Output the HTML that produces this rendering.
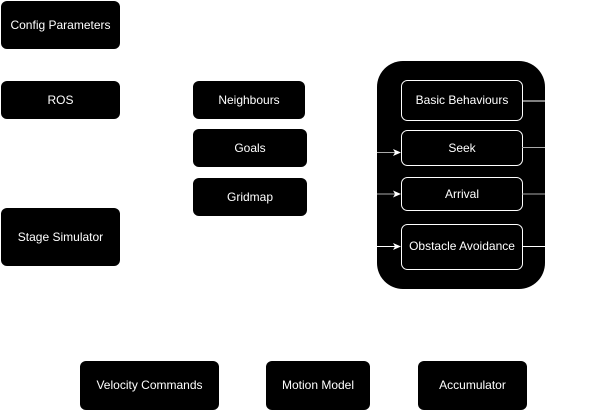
<!DOCTYPE html>
<html><head><meta charset="utf-8"><style>
html,body{margin:0;padding:0;background:#fff;}
svg{display:block;}
text{font-family:"Liberation Sans",sans-serif;font-size:12px;fill:#fff;text-anchor:middle;dominant-baseline:central;}
</style></head><body>
<svg width="611" height="411" viewBox="0 0 611 411">
<defs><marker id="a" markerWidth="8" markerHeight="8" refX="7" refY="4" orient="auto" markerUnits="userSpaceOnUse"><path d="M0,0.5 L8,4 L0,7.5 L2,4 Z" fill="#fff"/></marker></defs>
<rect x="1" y="1" width="119" height="48" rx="6" fill="#000"/><text x="60.5" y="25">Config Parameters</text>
<rect x="1" y="81" width="119" height="38" rx="6" fill="#000"/><text x="60.5" y="100">ROS</text>
<rect x="1" y="208" width="119" height="58" rx="6" fill="#000"/><text x="60.5" y="237">Stage Simulator</text>
<rect x="193" y="81" width="112" height="38" rx="6" fill="#000"/><text x="249" y="100">Neighbours</text>
<rect x="193" y="129" width="114" height="38" rx="6" fill="#000"/><text x="250" y="148">Goals</text>
<rect x="193" y="178" width="114" height="38" rx="6" fill="#000"/><text x="250" y="197">Gridmap</text>
<rect x="377" y="61" width="168" height="228" rx="26" fill="#000"/>
<g stroke="#fff" fill="none">
<rect x="401.5" y="80.5" width="121" height="40" rx="6"/>
<rect x="401.5" y="130.5" width="121" height="35" rx="6"/>
<rect x="401.5" y="177.5" width="121" height="33" rx="6"/>
<rect x="401.5" y="224.5" width="121" height="45" rx="6"/>
<line x1="522" y1="101" x2="545" y2="101"/>
<line x1="522" y1="147.5" x2="545" y2="147.5" stroke="#aaa"/>
<line x1="522" y1="194" x2="545" y2="194" stroke="#aaa"/>
<line x1="522" y1="246.5" x2="545" y2="246.5"/>
<line x1="377" y1="152.5" x2="400" y2="152.5" stroke="#aaa" marker-end="url(#a)"/>
<line x1="377" y1="194" x2="400" y2="194" stroke="#aaa" marker-end="url(#a)"/>
<line x1="377" y1="246.5" x2="400" y2="246.5" marker-end="url(#a)"/>
</g>
<text x="462" y="100">Basic Behaviours</text>
<text x="462" y="148">Seek</text>
<text x="462" y="194">Arrival</text>
<text x="462" y="246">Obstacle Avoidance</text>
<rect x="80" y="361" width="139" height="49" rx="6" fill="#000"/><text x="149.5" y="385">Velocity Commands</text>
<rect x="266" y="361" width="104" height="49" rx="6" fill="#000"/><text x="318" y="385">Motion Model</text>
<rect x="418" y="361" width="109" height="49" rx="6" fill="#000"/><text x="472.5" y="385">Accumulator</text>
</svg>
</body></html>
